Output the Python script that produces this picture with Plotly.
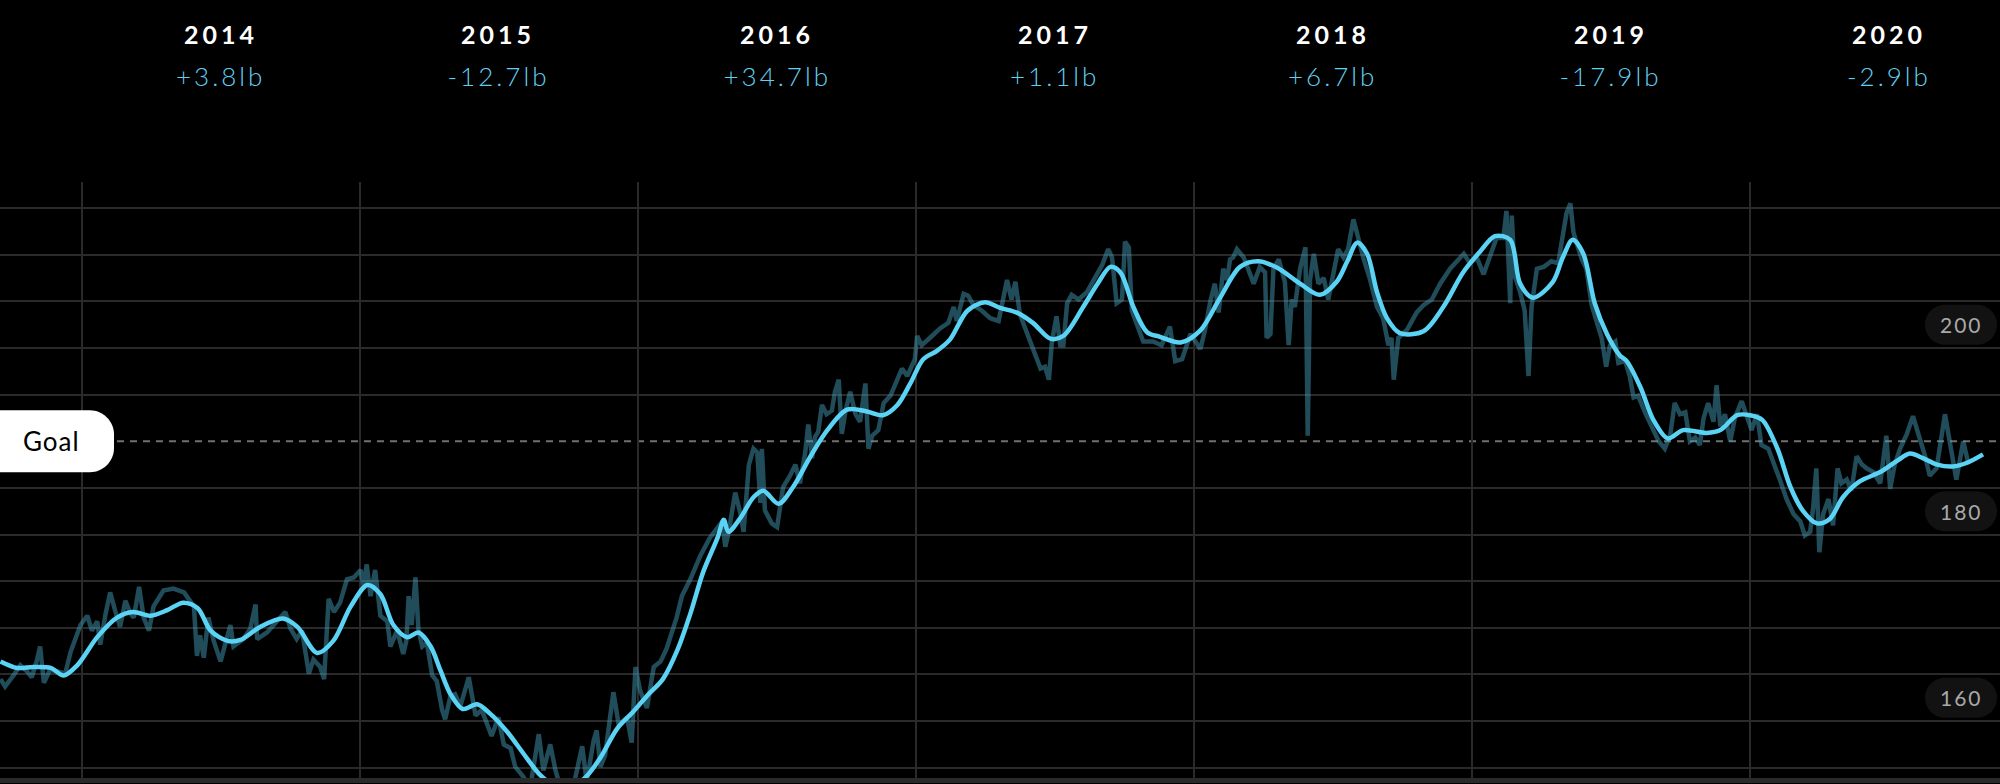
import pandas as pd
import plotly.graph_objects as go

# ---------------- data ----------------
BASE = pd.Timestamp("2014-01-01")

years = ["2014", "2015", "2016", "2017", "2018", "2019", "2020"]
year_changes = ["+3.8lb", "-12.7lb", "+34.7lb", "+1.1lb", "+6.7lb", "-17.9lb", "-2.9lb"]
goal_weight = 190
axis_labels = [200, 180, 160]
grid_values = [155, 160, 165, 170, 175, 180, 185, 195, 200, 205, 210, 215]

# daily weigh-ins: day offset from 2014-01-01, weight in lb
raw_days = [
    -107, -101, -90, -81, -72, -66, -59, -55, -50, -42, -31, -22, -15, -2, 7, 13, 20, 24, 31, 37,
    44, 50, 57, 64, 68, 75, 81, 88, 94, 107, 120, 134, 147, 151, 155, 160, 166, 173, 182, 195,
    199, 212, 221, 228, 230, 243, 256, 267, 274, 282, 289, 298, 304, 313, 318, 324, 331, 339, 348, 357,
    366, 370, 374, 379, 385, 392, 401, 405, 414,
    418, 422, 426, 429, 433, 438, 442, 447, 453, 460, 466, 473, 477, 484, 490, 497, 508, 517, 525, 532,
    538, 547, 554, 563, 569, 578, 589, 600, 606, 615, 622, 628, 637, 646, 657, 663, 672, 676, 681, 687,
    698, 705, 716, 722, 727, 733, 742, 751, 760, 768, 777, 781, 788, 799, 812, 825, 841, 845, 849, 858,
    865, 869, 876, 882, 887, 891, 893, 897, 906, 913, 921, 930, 937, 943,
    950, 954, 959, 963, 967, 972, 978, 985, 989, 994, 998, 1003, 1009, 1016, 1022, 1029, 1033, 1038, 1046, 1053,
    1062, 1070, 1077, 1084, 1094, 1097, 1103, 1114, 1127, 1138, 1145, 1149, 1158, 1164, 1171, 1182, 1193, 1204, 1210, 1215,
    1221, 1226, 1232, 1241, 1250, 1259, 1265, 1270, 1274, 1280, 1285, 1289, 1294, 1300, 1309, 1320, 1329, 1340, 1348, 1353,
    1359, 1366, 1370, 1375, 1379, 1386, 1394, 1407, 1418, 1429, 1436, 1445, 1456, 1469,
    1475, 1482, 1488, 1493, 1499, 1504, 1508, 1512, 1517, 1526, 1534, 1539, 1547, 1554, 1556, 1561, 1565, 1572, 1580, 1585,
    1589, 1593, 1600, 1607, 1610, 1613, 1618, 1624, 1631, 1637, 1644, 1650, 1657, 1663, 1670, 1677, 1683, 1692, 1701, 1709,
    1716, 1720, 1723, 1729, 1740, 1753, 1762, 1773, 1784, 1797, 1815, 1823, 1832, 1841, 1849, 1858, 1867, 1871, 1876, 1878,
    1882, 1889, 1895, 1900, 1904, 1911, 1920, 1930, 1939, 1946, 1950, 1955, 1959, 1965,
    1970, 1976, 1983, 1990, 1996, 2002, 2007, 2014, 2018, 2027, 2033, 2038, 2044, 2053, 2062, 2071, 2079, 2086, 2092, 2099,
    2106, 2112, 2119, 2125, 2130, 2136, 2143, 2147, 2152, 2158, 2165, 2171, 2180, 2187, 2193, 2200, 2206, 2215, 2222, 2230,
    2239, 2248, 2257, 2263, 2270, 2274, 2278, 2282, 2287, 2294, 2300, 2306, 2311, 2318, 2324, 2331, 2338, 2344, 2353, 2362,
    2370, 2375, 2381, 2388, 2397, 2405, 2412, 2421, 2427, 2436, 2447, 2453, 2462, 2471, 2478,
]
raw_lbs = [
    164.5, 163.7, 164.9, 166.0, 165.3, 164.7, 166.6, 168.0, 164.1, 165.5, 165.3, 165.1, 167.4, 170.3, 171.3, 169.7, 170.7, 168.2, 171.5, 173.8,
    171.7, 170.1, 172.9, 171.5, 171.1, 174.4, 171.1, 169.7, 172.3, 174.0, 174.2, 173.8, 172.3, 167.0, 169.2, 166.8, 171.1, 168.6, 166.4, 170.3,
    168.0, 168.8, 169.9, 172.5, 168.8, 169.5, 170.7, 171.7, 169.9, 168.8, 169.7, 165.1, 166.6, 165.8, 164.5, 173.1, 171.7, 172.7, 175.2, 175.4,
    176.2, 174.4, 176.8, 173.4, 176.2, 171.3, 170.7, 168.0, 169.7,
    168.2, 167.2, 168.6, 173.4, 170.3, 175.4, 169.7, 168.0, 168.4, 164.9, 164.3, 161.2, 160.2, 162.7, 162.9, 161.6, 164.7, 160.6, 161.2, 159.8,
    158.4, 160.4, 157.5, 157.1, 155.1, 154.2, 153.0, 158.6, 154.7, 157.5, 154.7, 153.0, 152.5, 153.2, 157.3, 153.5, 157.9, 159.0, 155.1, 156.3,
    163.1, 159.6, 160.4, 157.7, 165.8, 163.3, 161.4, 165.8, 166.4, 167.8, 169.9, 171.1, 173.4, 175.2, 177.7, 179.7, 181.4, 178.7, 180.1, 184.5,
    182.2, 180.3, 187.5, 189.2, 188.8, 183.4, 189.2, 182.6, 181.2, 180.8, 185.1, 186.3, 187.5, 185.5,
    188.8, 191.8, 188.2, 190.5, 191.0, 193.9, 192.9, 193.3, 195.3, 196.6, 190.8, 193.3, 195.3, 192.9, 192.1, 196.2, 189.2, 190.6, 191.2, 194.1,
    194.9, 196.6, 197.8, 197.0, 198.8, 201.3, 200.3, 201.1, 202.1, 202.7, 204.4, 202.9, 205.8, 205.6, 204.6, 204.0, 203.2, 202.9, 205.2, 207.3,
    205.2, 207.1, 203.6, 201.7, 199.9, 197.8, 198.0, 196.6, 200.7, 203.4, 200.3, 200.3, 204.8, 205.7, 205.2, 206.0, 207.3, 208.9, 210.6, 209.7,
    204.8, 205.2, 211.4, 210.8, 204.0, 202.3, 200.7, 200.7, 200.3, 202.3, 198.6, 198.8, 201.5, 199.9,
    201.9, 205.0, 206.9, 203.8, 208.5, 207.3, 209.5, 209.7, 210.6, 209.7, 208.1, 206.9, 208.7, 208.1, 201.1, 201.5, 208.5, 209.5, 207.1, 200.3,
    205.2, 204.4, 208.5, 210.8, 190.6, 207.3, 210.1, 206.9, 207.5, 205.2, 208.1, 210.6, 209.7, 210.6, 213.8, 211.4, 209.7, 207.3, 204.4, 203.2,
    200.3, 201.1, 196.6, 201.1, 201.9, 203.8, 204.6, 205.2, 206.9, 208.5, 210.1, 209.1, 209.7, 207.9, 209.9, 211.8, 211.8, 214.7, 204.8, 214.2,
    207.7, 206.0, 204.0, 197.0, 204.4, 208.5, 208.7, 209.3, 209.1, 212.6, 214.5, 215.5, 212.4, 210.8,
    209.5, 208.5, 204.6, 202.7, 201.1, 198.0, 200.3, 200.7, 198.4, 198.6, 197.0, 194.7, 194.9, 193.1, 191.6, 190.0, 189.2, 190.6, 194.1, 192.9,
    193.1, 190.0, 190.4, 189.6, 192.5, 194.1, 192.1, 196.0, 191.6, 192.9, 190.0, 192.5, 194.3, 192.5, 191.2, 192.9, 189.6, 189.2, 187.5, 185.9,
    183.8, 182.2, 181.4, 179.9, 180.3, 183.0, 187.1, 178.1, 182.2, 183.8, 181.0, 187.1, 185.5, 185.9, 184.7, 188.4, 187.5, 187.1, 186.7, 185.5,
    190.6, 184.9, 187.5, 189.2, 190.8, 192.7, 190.8, 188.4, 186.3, 187.1, 192.9, 190.0, 185.9, 190.0, 187.5,
]

# smoothed trend
trend_days = [
    -107, -85, -64, -41, -24, -6, 20, 46, 67, 90, 112, 133, 152, 169, 191, 208, 234, 264, 283, 309,
    330, 353, 375, 392, 409, 427, 442, 458, 471, 484, 500, 519, 536, 559, 580, 602, 620, 634, 648, 664,
    681, 703, 724, 742, 763, 782, 799, 816, 835, 843, 849, 865, 882, 895, 915, 934, 957, 979, 1005, 1031,
    1052, 1071, 1088, 1105, 1123, 1140, 1163, 1186, 1206, 1228, 1249, 1272, 1289, 1315, 1334, 1351, 1364, 1381, 1399, 1416,
    1443, 1469, 1495, 1521, 1545, 1570, 1600, 1626, 1648, 1662, 1675, 1688, 1701, 1714, 1731, 1762, 1788, 1814, 1836, 1856,
    1876, 1889, 1906, 1932, 1945, 1958, 1972, 1987, 2003, 2020, 2029, 2047, 2064, 2083, 2103, 2134, 2152, 2174, 2191, 2207,
    2227, 2244, 2260, 2279, 2296, 2313, 2335, 2362, 2384, 2401, 2418, 2437, 2457, 2476, 2497,
]
trend_lbs = [
    166.4, 165.7, 165.8, 165.7, 164.9, 166.0, 169.0, 171.1, 171.7, 171.3, 171.9, 172.7, 172.1, 169.7, 168.6, 168.7, 170.1, 171.0, 170.1, 167.3,
    168.6, 172.3, 174.6, 173.6, 170.3, 169.0, 169.5, 168.0, 165.4, 162.9, 161.3, 161.8, 160.8, 158.8, 156.5, 154.2, 153.1, 152.7, 153.1, 154.2,
    156.1, 159.2, 161.0, 162.7, 164.5, 167.6, 171.5, 176.0, 179.7, 181.6, 180.3, 181.8, 184.0, 184.7, 183.3, 185.1, 188.4, 191.2, 193.4, 193.2,
    192.8, 193.9, 196.2, 198.8, 199.7, 200.9, 204.0, 204.9, 204.3, 203.8, 202.7, 201.0, 201.3, 204.4, 206.9, 208.7, 208.1, 204.4, 201.7, 201.2,
    200.6, 201.9, 205.4, 208.7, 209.3, 208.6, 206.9, 205.7, 207.1, 209.3, 211.3, 210.1, 206.0, 203.2, 201.6, 201.8, 204.4, 208.1, 210.3, 212.0,
    211.6, 206.9, 205.4, 207.1, 209.7, 211.6, 210.1, 204.8, 201.5, 199.2, 198.6, 195.8, 192.3, 190.3, 191.2, 190.9, 191.2, 192.8, 192.8, 192.3,
    189.2, 185.1, 182.6, 181.2, 181.7, 184.0, 185.7, 186.7, 187.9, 188.7, 188.2, 187.5, 187.3, 187.7, 188.6,
]

assert len(raw_days) == len(raw_lbs)
assert len(trend_days) == len(trend_lbs)

def to_date(d):
    return BASE + pd.Timedelta(days=d)

raw_x = [to_date(d) for d in raw_days]
trend_x = [to_date(d) for d in trend_days]
year_starts = [pd.Timestamp(f"{y}-01-01") for y in years]
year_mids = [pd.Timestamp(f"{y}-07-02") for y in years]

# ---------------- style ----------------
BG = "#000000"
GRID = "#2a2a2a"
TREND = "#5ad3f5"
RAW = "rgba(70,160,190,0.48)"
CHANGE_TXT = "#62cff0"
FONT = "Lato"

x_range = [to_date(-107.7), to_date(2519.3)]
y_range = [153.9, 217.8]

fig = go.Figure()
fig.add_trace(go.Scatter(x=raw_x, y=raw_lbs, mode="lines",
                         line=dict(color=RAW, width=4.5), hoverinfo="skip"))
fig.add_trace(go.Scatter(x=trend_x, y=trend_lbs, mode="lines",
                         line=dict(color=TREND, width=4.5, shape="spline", smoothing=0.9),
                         hoverinfo="skip"))

shapes = []
# dashed goal line
shapes.append(dict(type="line", xref="paper", x0=0, x1=1, yref="y", y0=goal_weight, y1=goal_weight,
                   line=dict(color="#707070", width=2, dash="7px,6px"), layer="between"))
# goal pill (white, rounded on the right)
shapes.append(dict(type="path", xref="paper", yref="y", xsizemode="pixel", ysizemode="pixel",
                   xanchor=0, yanchor=goal_weight,
                   path="M -20,-31 L 90,-31 C 103,-31 114,-20 114,-7 L 114,7 C 114,20 103,31 90,31 L -20,31 Z",
                   fillcolor="#ffffff", line=dict(width=0), layer="above"))
# axis label pills
for v in axis_labels:
    shapes.append(dict(type="path", xref="paper", yref="y", xsizemode="pixel", ysizemode="pixel",
                       xanchor=0.9805, yanchor=v + 2.5,
                       path="M -16,-20 L 16,-20 C 27,-20 36,-11 36,0 C 36,11 27,20 16,20 "
                            "L -16,20 C -27,20 -36,11 -36,0 C -36,-11 -27,-20 -16,-20 Z",
                       fillcolor="#121212", line=dict(width=0), layer="above"))

annotations = []
annotations.append(dict(xref="paper", yref="y", x=0.0255, y=goal_weight, text="Goal",
                        showarrow=False, font=dict(family=FONT, size=26, color="#000000"),
                        xanchor="center", yanchor="middle"))
for v in axis_labels:
    annotations.append(dict(xref="paper", yref="y", x=0.9805, y=v + 2.5, text=str(v),
                            showarrow=False, font=dict(family=FONT, size=21, color="#a9a9a9"),
                            xanchor="center", yanchor="middle"))
for yr, mid, ch in zip(years, year_mids, year_changes):
    annotations.append(dict(xref="x", yref="paper", x=mid, y=1.2475, text=yr, showarrow=False,
                            font=dict(family=FONT, size=25, color="#ffffff", weight=700),
                            xanchor="center", yanchor="middle"))
    annotations.append(dict(xref="x", yref="paper", x=mid, y=1.178, text=ch, showarrow=False,
                            font=dict(family=FONT, size=26, color=CHANGE_TXT, weight=300),
                            xanchor="center", yanchor="middle"))

fig.update_layout(
    width=2000, height=784,
    margin=dict(l=0, r=0, t=182, b=6, pad=0),
    paper_bgcolor=BG, plot_bgcolor=BG,
    showlegend=False,
    shapes=shapes, annotations=annotations,
    xaxis=dict(type="date", range=x_range, tickvals=year_starts, showticklabels=False,
               showgrid=True, gridcolor=GRID, gridwidth=2, zeroline=False, ticks="",
               showline=True, linecolor="#2a2a2a", linewidth=5, fixedrange=True),
    yaxis=dict(range=y_range, tickvals=grid_values, showticklabels=False,
               showgrid=True, gridcolor=GRID, gridwidth=2, zeroline=False, ticks="",
               showline=False, fixedrange=True),
)

# page without the browser's default body margin; letter-spaced labels like the original
post = """
document.body.style.margin = '0';
document.body.style.background = '#000';
document.querySelectorAll('.annotation-text').forEach(function (t) {
  var s = t.textContent;
  if (/^\\d{4}$/.test(s)) { t.style.letterSpacing = '4px'; }
  else if (/lb$/.test(s)) { t.style.letterSpacing = '3px'; }
  else if (s === 'Goal') { t.style.letterSpacing = '1px'; }
  else { t.style.letterSpacing = '2px'; }
});
"""

fig.write_html("out.html", post_script=post, config={"displayModeBar": False})
